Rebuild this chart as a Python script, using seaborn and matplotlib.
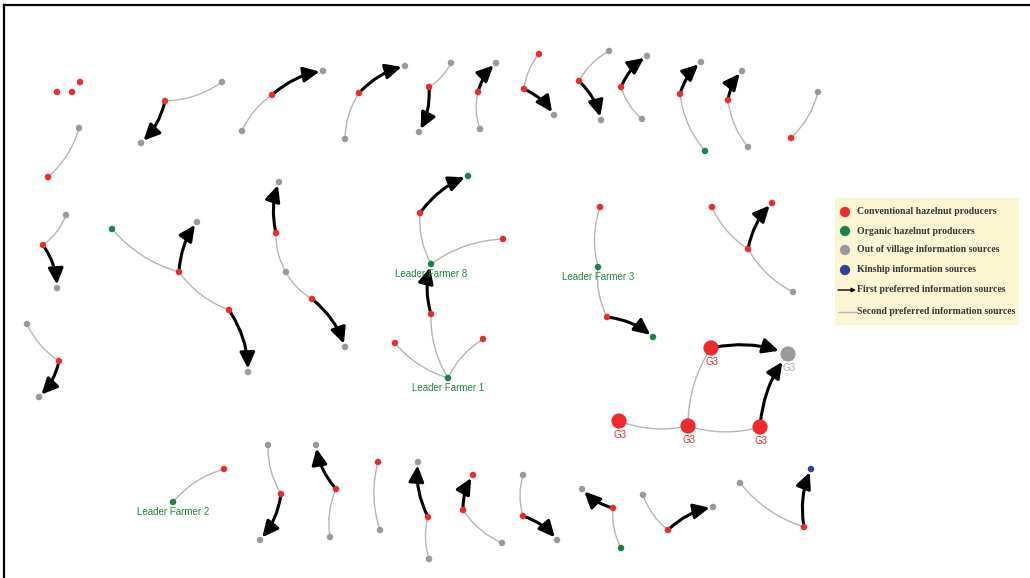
import numpy as np
import pandas as pd
import matplotlib.pyplot as plt
import seaborn as sns
from matplotlib.patches import ArrowStyle

# ── Nodes (position in the drawing, producer type, tag) ──────────────────────
node_x = [57, 72, 80, 48, 79, 165, 222, 141, 272, 323, 242, 359, 405, 345,
          429, 451, 419, 478, 496, 480, 539, 524, 554, 609, 579, 601, 621,
          647, 642, 680, 701, 705, 728, 742, 748, 818, 791,
          43, 66, 57, 112, 179, 229, 197, 248, 279, 276, 286, 312, 345,
          27, 59, 39, 468, 420, 431, 503, 431, 395, 483, 448, 600, 598,
          607, 653, 712, 772, 748, 793, 711, 788, 619, 688, 760,
          173, 224, 268, 281, 260, 316, 336, 330, 378, 380, 418, 428, 429,
          473, 463, 502, 523, 523, 557, 582, 613, 621, 643, 668, 713, 740,
          804, 811]
node_y = [92, 92, 82, 177, 128, 101, 82, 143, 95, 71, 131, 93, 66, 139,
          87, 63, 132, 92, 63, 129, 54, 89, 115, 51, 81, 120, 87,
          56, 119, 94, 62, 151, 100, 71, 147, 92, 138,
          245, 215, 288, 229, 272, 310, 222, 372, 182, 233, 272, 299, 347,
          324, 361, 397, 176, 213, 264, 239, 314, 343, 339, 378, 207, 267,
          317, 337, 207, 203, 249, 292, 348, 354, 421, 426, 427,
          502, 469, 445, 494, 540, 445, 489, 537, 462, 530, 462, 517, 559,
          475, 510, 543, 475, 516, 540, 489, 508, 548, 495, 530, 507, 483,
          527, 469]
# C = conventional, G = organic, O = out of village, K = kinship
node_kind = list("CCCCOCOOCOOCOOCOOCOOCCOOCOCOOCOGCOOOC"
                 "COOGCCOOOCOCOOCOGCGCCCCGCGCGCCCOCOCCC"
                 "GCOCOOCOCOOCOCCOOCOOCGOCOOCK")
node_tag = {55: "Leader Farmer 8", 60: "Leader Farmer 1", 62: "Leader Farmer 3",
            74: "Leader Farmer 2", 69: "G3", 70: "G3", 71: "G3", 72: "G3", 73: "G3"}

# ── Ties: first preferred (arrow) and second preferred (thin line) ───────────
first_src = [5, 8, 11, 14, 17, 21, 24, 26, 29, 32, 37, 41, 42, 46, 48, 51,
             54, 57, 63, 67, 69, 73, 77, 80, 85, 88, 91, 94, 97, 100]
first_dst = [7, 9, 12, 16, 18, 22, 25, 27, 30, 33, 39, 43, 44, 45, 49, 52,
             53, 55, 64, 66, 70, 70, 78, 79, 84, 87, 92, 93, 98, 101]
second_src = [3, 5, 8, 11, 14, 17, 20, 23, 26, 29, 32, 36, 37, 40, 41, 46, 47,
              50, 54, 56, 57, 58, 59, 61, 62, 65, 67, 69, 71, 72, 75, 76, 80,
              82, 85, 88, 90, 94, 96, 99]
second_dst = [4, 6, 10, 13, 15, 19, 21, 24, 28, 31, 34, 35, 38, 41, 42, 47, 48,
              51, 55, 55, 60, 60, 60, 62, 63, 67, 68, 72, 72, 73, 74, 77, 81,
              83, 86, 89, 91, 95, 97, 100]

legend_labels = ["Conventional hazelnut producers", "Organic hazelnut producers",
                 "Out of village information sources", "Kinship information sources",
                 "First preferred information sources", "Second preferred information sources"]

KIND_COLORS = {"C": "#ee2a2e", "G": "#17844a", "O": "#9a9a9a", "K": "#2f3f9e"}

df = pd.DataFrame({"x": node_x, "y": node_y, "kind": node_kind})
df["tag"] = [node_tag.get(i, "") for i in range(len(df))]
df["big"] = np.where(df["tag"] == "G3", "big", "small")

# ── Figure ────────────────────────────────────────────────────────────────────
sns.set_style("white")
fig = plt.figure(figsize=(10.30, 5.78), dpi=100)
ax = fig.add_axes([4 / 1030, 0, 1 - 4 / 1030, 1 - 5 / 578])
ax.set_xlim(4, 1030)
ax.set_ylim(578, 5)
ax.set_xticks([])
ax.set_yticks([])
for side in ["right", "bottom"]:
    ax.spines[side].set_visible(False)
for side in ["left", "top"]:
    ax.spines[side].set_color("black")
    ax.spines[side].set_linewidth(1.6)

# thin ties
for s, d in zip(second_src, second_dst):
    ax.annotate("", xy=(node_x[d], node_y[d]), xytext=(node_x[s], node_y[s]),
                arrowprops=dict(arrowstyle="-", color="#b5b5b5", lw=1.0,
                                shrinkA=0, shrinkB=0,
                                connectionstyle="arc3,rad=0.15"), zorder=1)

# first preferred ties (arrows)
arrow = ArrowStyle("-|>", head_length=0.8, head_width=0.38)
for s, d in zip(first_src, first_dst):
    shrink = 7 if node_tag.get(d) == "G3" else 2.5
    ax.annotate("", xy=(node_x[d], node_y[d]), xytext=(node_x[s], node_y[s]),
                arrowprops=dict(arrowstyle=arrow, color="black", lw=2.2,
                                mutation_scale=12, shrinkA=2, shrinkB=shrink,
                                connectionstyle="arc3,rad=-0.15"), zorder=2)

# nodes
sns.scatterplot(data=df, x="x", y="y", hue="kind", palette=KIND_COLORS,
                size="big", sizes={"small": 22, "big": 120},
                edgecolor="none", legend=False, ax=ax, zorder=3)
ax.set_xlabel("")
ax.set_ylabel("")

# labels
for i, t in node_tag.items():
    if t == "G3":
        col = "#aaaaaa" if node_kind[i] == "O" else "#ee2a2e"
        ax.text(node_x[i] + 1, node_y[i] + 14, t, color=col, fontsize=7,
                ha="center", va="center", family="Liberation Sans", zorder=4)
    else:
        ax.text(node_x[i], node_y[i] + 10, t, color="#1d8a3a", fontsize=7,
                ha="center", va="center", family="Liberation Sans", zorder=4)

# ── Legend (hand drawn box) ──────────────────────────────────────────────────
lx0, ly0, lw_, lh = 835, 198, 184, 127
ax.add_patch(plt.Rectangle((lx0, ly0), lw_, lh, facecolor="#fcf6d2",
                           edgecolor="none", zorder=4))
rows_y = [212, 231, 250, 270, 290, 312]
for k, yy in zip(["C", "G", "O", "K"], rows_y[:4]):
    ax.scatter([845], [yy], s=55, color=KIND_COLORS[k], edgecolor="none", zorder=5)
for lab, yy in zip(legend_labels[:4], rows_y[:4]):
    ax.text(857, yy, lab, fontsize=7, fontweight="bold", color="#333333",
            va="center", ha="left", family="Liberation Serif", zorder=5)
ax.annotate("", xy=(856, rows_y[4]), xytext=(838, rows_y[4]),
            arrowprops=dict(arrowstyle="-|>", color="black", lw=1.0,
                            mutation_scale=6, shrinkA=0, shrinkB=0), zorder=5)
ax.plot([838, 856], [rows_y[5], rows_y[5]], color="#b5b5b5", lw=1.0, zorder=5)
for lab, yy in zip(legend_labels[4:], rows_y[4:]):
    ax.text(857, yy, lab, fontsize=7, fontweight="bold", color="#333333",
            va="center", ha="left", family="Liberation Serif", zorder=5)

plt.savefig("out.png", dpi=100)
